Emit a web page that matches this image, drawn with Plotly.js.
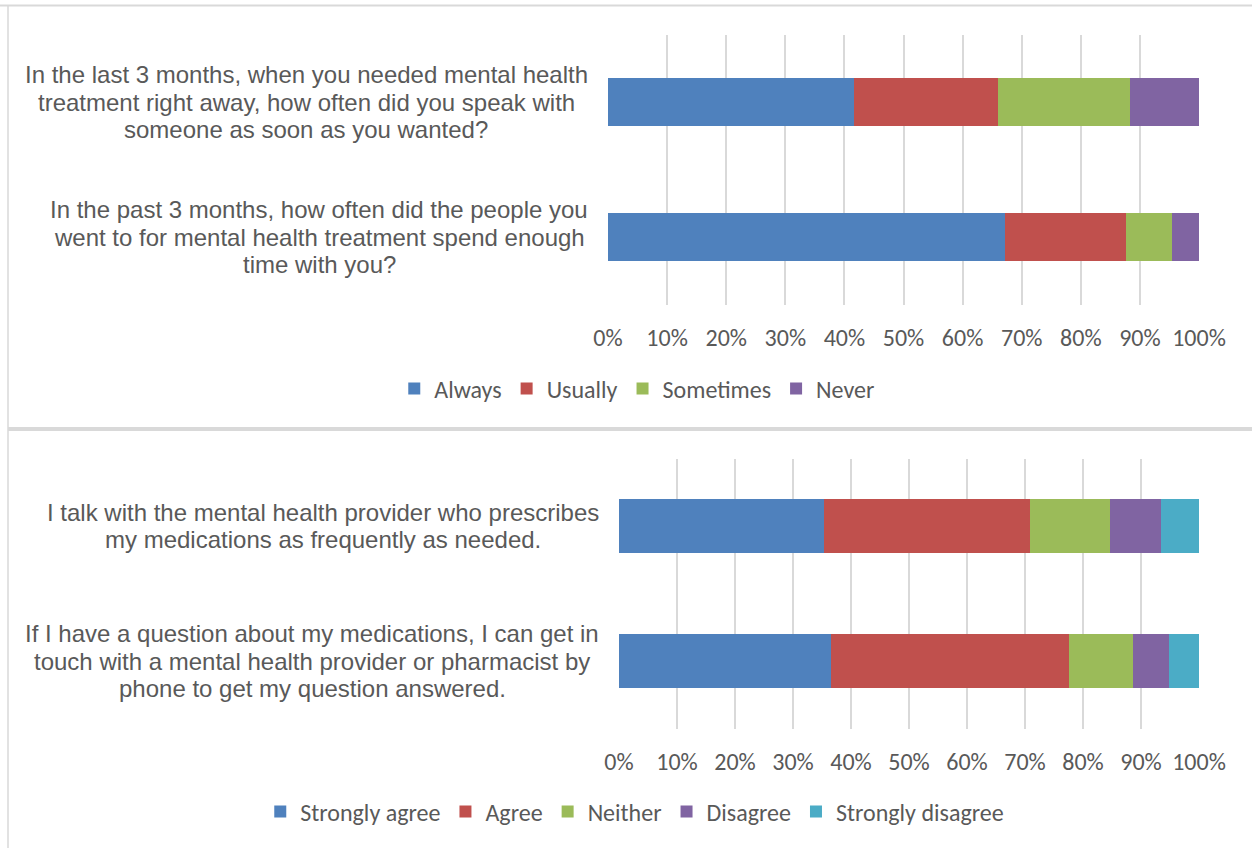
<!DOCTYPE html>
<html>
<head>
<meta charset="utf-8">
<script src="https://cdn.plot.ly/plotly-3.0.1.min.js"></script>
<style>html,body{margin:0;padding:0;background:#fff;}#chart{width:1252px;height:848px;}</style>
</head>
<body>
<div id="chart"></div>
<script>
// ---- Data ----
const topQuestions = [
  "In the last 3 months, when you needed mental health<br>treatment right away, how often did you speak with<br>someone as soon as you wanted?",
  "In the past 3 months, how often did the people you<br>went to for mental health treatment spend enough<br>time with you?"
];
const topSeriesNames = ["Always", "Usually", "Sometimes", "Never"];
const always    = [41.7, 67.2];
const usually   = [24.3, 20.4];
const sometimes = [22.3, 7.9];
const never     = [11.7, 4.5];

const bottomQuestions = [
  "I talk with the mental health provider who prescribes<br>my medications as frequently as needed.",
  "If I have a question about my medications, I can get in<br>touch with a mental health provider or pharmacist by<br>phone to get my question answered."
];
const bottomSeriesNames = ["Strongly agree", "Agree", "Neither", "Disagree", "Strongly disagree"];
const stronglyAgree    = [35.3, 36.6];
const agree            = [35.5, 40.9];
const neither          = [13.8, 11.1];
const disagree         = [8.8, 6.2];
const stronglyDisagree = [6.6, 5.2];

const tickValues = [0, 10, 20, 30, 40, 50, 60, 70, 80, 90, 100];
const tickLabels = ["0%", "10%", "20%", "30%", "40%", "50%", "60%", "70%", "80%", "90%", "100%"];

// ---- Styles ----
const colors5 = ["#4f81bd", "#c0504d", "#9bbb59", "#8064a2", "#4bacc6"];
const textColor = "#595959";
const gridColor = "#d9d9d9";
const labelFont = {family: "'Liberation Sans', Arial, sans-serif", size: 24, color: textColor};
const calibriFont = {family: "Carlito, 'Open Sans', sans-serif", size: 24, color: textColor};
const lineStep = 27.5;
const topBarWidth = 0.36, bottomBarWidth = 0.4;

const topData = [always, usually, sometimes, never];
const bottomData = [stronglyAgree, agree, neither, disagree, stronglyDisagree];

const traces = [];
topData.forEach((vals, i) => {
  traces.push({
    type: "bar", orientation: "h",
    x: vals, y: topQuestions,
    name: topSeriesNames[i],
    width: topBarWidth,
    marker: {color: colors5[i], line: {width: 0}},
    xaxis: "x", yaxis: "y",
    legend: "legend",
    hoverinfo: "x+name"
  });
});
bottomData.forEach((vals, i) => {
  traces.push({
    type: "bar", orientation: "h",
    x: vals, y: bottomQuestions,
    name: bottomSeriesNames[i],
    width: bottomBarWidth,
    marker: {color: colors5[i], line: {width: 0}},
    xaxis: "x2", yaxis: "y2",
    legend: "legend2",
    hoverinfo: "x+name"
  });
});

// category labels: centred multi-line blocks, right edge fixed
const W = 1252, H = 848;
const cv = document.createElement("canvas").getContext("2d");
cv.font = "24px 'Liberation Sans', Arial, sans-serif";
const annotations = [];
function addLabel(q, yref, rightPx) {
  const lines = q.split("<br>");
  const maxW = Math.max(...lines.map(l => cv.measureText(l).width));
  const cx = (rightPx - maxW / 2) / W;
  const n = lines.length;
  lines.forEach((l, k) => {
    annotations.push({
      xref: "paper", yref: yref, x: cx, y: q, xanchor: "center", yanchor: "middle",
      yshift: -(k - (n - 1) / 2) * lineStep,
      text: l, showarrow: false, font: labelFont
    });
  });
}
topQuestions.forEach(q => addLabel(q, "y", 588));
bottomQuestions.forEach(q => addLabel(q, "y2", 599));

function xax(domain, anchor) {
  return {
    domain: domain, anchor: anchor, range: [0, 100], fixedrange: true,
    tickvals: tickValues, ticktext: tickLabels,
    showgrid: true, gridcolor: gridColor, gridwidth: 2,
    zeroline: false, showline: false,
    ticks: "outside", ticklen: 12, tickcolor: "rgba(0,0,0,0)",
    tickfont: calibriFont
  };
}
function yax(domain, anchor, cats) {
  return {
    domain: domain, anchor: anchor, type: "category",
    categoryorder: "array", categoryarray: cats,
    range: [1.5, -0.5], showticklabels: false, showgrid: false,
    zeroline: false, showline: false, fixedrange: true
  };
}

const layout = {
  width: W, height: H,
  margin: {l: 0, r: 0, t: 0, b: 0},
  paper_bgcolor: "#ffffff", plot_bgcolor: "rgba(0,0,0,0)",
  barmode: "stack",
  showlegend: true,
  xaxis: xax([608 / W, 1199 / W], "y"),
  yaxis: yax([(H - 304.5) / H, (H - 34.5) / H], "x", topQuestions),
  xaxis2: xax([619 / W, 1199 / W], "y2"),
  yaxis2: yax([(H - 728.5) / H, (H - 458.5) / H], "x2", bottomQuestions),
  legend: {orientation: "h", x: 0.509, xanchor: "center", y: (H - 389) / H, yanchor: "middle",
           font: calibriFont, traceorder: "normal", itemclick: false, itemdoubleclick: false},
  legend2: {orientation: "h", x: 0.507, xanchor: "center", y: (H - 812) / H, yanchor: "middle",
            font: calibriFont, traceorder: "normal", itemclick: false, itemdoubleclick: false},
  annotations: annotations,
  shapes: [
    {type: "line", xref: "paper", yref: "paper", x0: 0, x1: 1, y0: (H - 5.5) / H, y1: (H - 5.5) / H,
     line: {color: gridColor, width: 2}},
    {type: "line", xref: "paper", yref: "paper", x0: 8 / W, x1: 8 / W, y0: 0, y1: (H - 5.5) / H,
     line: {color: gridColor, width: 1.5}},
    {type: "line", xref: "paper", yref: "paper", x0: 8 / W, x1: 1, y0: (H - 429) / H, y1: (H - 429) / H,
     line: {color: gridColor, width: 4}}
  ]
};

Plotly.newPlot("chart", traces, layout, {displayModeBar: false, staticPlot: true});
</script>
</body>
</html>
